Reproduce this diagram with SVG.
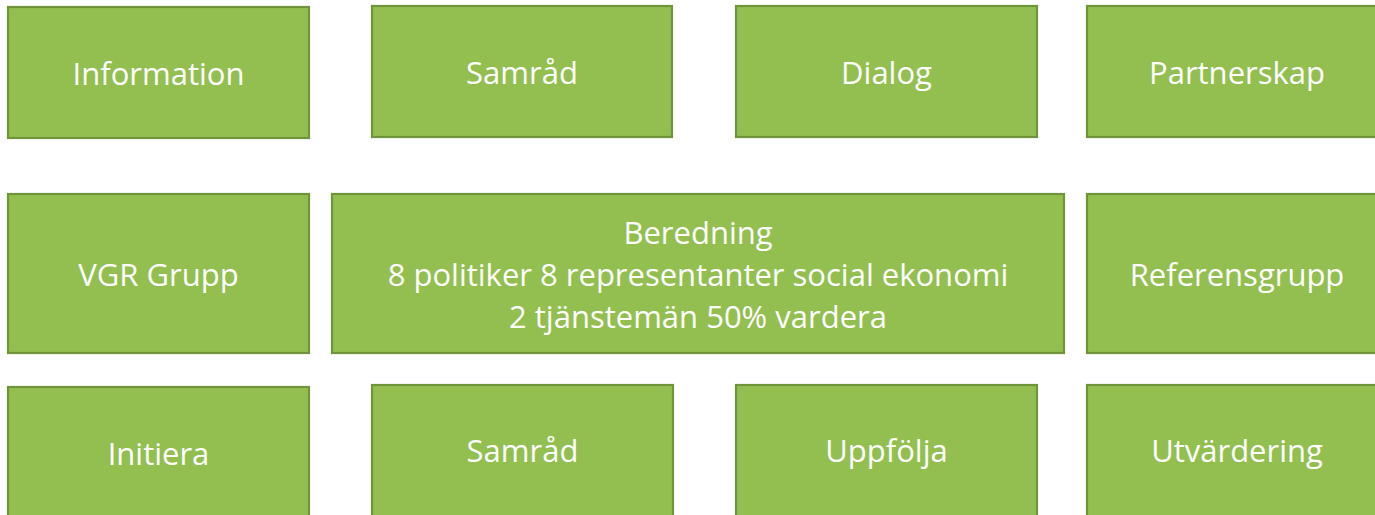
<svg xmlns="http://www.w3.org/2000/svg" width="1375" height="515" viewBox="0 0 1375 515">
<style>
.box{fill:#92bf50;stroke:#6f9439;stroke-width:2.2}
.t{font-family:"Open Sans","Liberation Sans",sans-serif;font-size:31px;fill:#ffffff;text-anchor:middle}
</style>
<rect width="1375" height="515" fill="#ffffff"/>
<g id="connectors"></g>
<g id="information"><rect class="box" x="8" y="7" width="301" height="131"/><text class="t" x="158.5" y="85">Information</text></g>
<g id="samrad1"><rect class="box" x="372" y="6" width="300" height="131"/><text class="t" x="522" y="84">Samråd</text></g>
<g id="dialog"><rect class="box" x="736" y="6" width="301" height="131"/><text class="t" x="886.5" y="84">Dialog</text></g>
<g id="partnerskap"><rect class="box" x="1087" y="6" width="301" height="131"/><text class="t" x="1237" y="84">Partnerskap</text></g>
<g id="vgr"><rect class="box" x="8" y="194" width="301" height="159"/><text class="t" x="158.5" y="286">VGR Grupp</text></g>
<g id="beredning"><rect class="box" x="332" y="194" width="732" height="159"/><text class="t" x="698" y="244">Beredning</text><text class="t" x="698" y="286">8 politiker 8 representanter social ekonomi</text><text class="t" x="698" y="328">2 tjänstemän 50% vardera</text></g>
<g id="referensgrupp"><rect class="box" x="1087" y="194" width="301" height="159"/><text class="t" x="1237" y="286">Referensgrupp</text></g>
<g id="initiera"><rect class="box" x="8" y="387" width="301" height="150"/><text class="t" x="158.5" y="465">Initiera</text></g>
<g id="samrad2"><rect class="box" x="372" y="385" width="301" height="150"/><text class="t" x="522.5" y="462">Samråd</text></g>
<g id="uppfolja"><rect class="box" x="736" y="385" width="301" height="150"/><text class="t" x="886.5" y="462">Uppfölja</text></g>
<g id="utvardering"><rect class="box" x="1087" y="385" width="301" height="150"/><text class="t" x="1237" y="462">Utvärdering</text></g>
</svg>
